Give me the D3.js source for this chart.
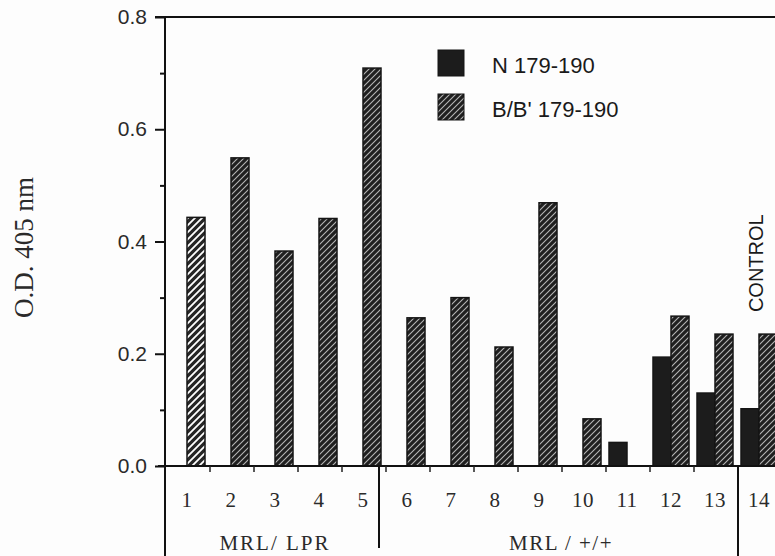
<!DOCTYPE html>
<html>
<head>
<meta charset="utf-8">
<script src="https://cdn.jsdelivr.net/npm/d3@7"></script>
<style>
  body { margin: 0; background: #fdfdfd; }
  svg { display: block; }
</style>
</head>
<body>
<div class="graph-center"></div>
<script>
// data
let categories = ['1', '2', '3', '4', '5', '6', '7', '8', '9', '10', '11', '12', '13', '14']
let nValues = [null, null, null, null, null, null, null, null, null, null, 0.042, 0.194, 0.130, 0.102]
let bValues = [0.443, 0.549, 0.383, 0.441, 0.709, 0.264, 0.300, 0.212, 0.469, 0.084, null, 0.267, 0.235, 0.235]
let seriesNames = ['N 179-190', "B/B' 179-190"]
let groupNames = ['MRL/ LPR', 'MRL / +/+']
let groupRanges = [['1', '5'], ['6', '13']]
let yTicks = [0, 0.2, 0.4, 0.6, 0.8]
let yMinorTicks = [0.1, 0.3, 0.5, 0.7]

let svgWidth = 775
let svgHeight = 556

let svg = d3.select('.graph-center')
    .append('svg')
    .attr('width', svgWidth)
    .attr('height', svgHeight)

// hatch patterns
let defs = svg.append('defs')
let hatch = defs.append('pattern')
    .attr('id', 'hatch')
    .attr('patternUnits', 'userSpaceOnUse')
    .attr('width', 6).attr('height', 6)
hatch.append('rect').attr('width', 6).attr('height', 6).attr('fill', '#1f1f1f')
hatch.append('path')
    .attr('d', 'M-1,1 l2,-2 M0,6 l6,-6 M5,7 l2,-2')
    .attr('stroke', '#b4b4b4').attr('stroke-width', 1.1)

let hatchLight = defs.append('pattern')
    .attr('id', 'hatch-light')
    .attr('patternUnits', 'userSpaceOnUse')
    .attr('width', 7).attr('height', 7)
hatchLight.append('rect').attr('width', 7).attr('height', 7).attr('fill', '#262626')
hatchLight.append('path')
    .attr('d', 'M-1,1 l2,-2 M0,7 l7,-7 M6,8 l2,-2')
    .attr('stroke', '#ffffff').attr('stroke-width', 1.8)

// scales
let x = d3.scaleBand()
    .domain(categories)
    .range([165, 165 + 44 * categories.length])
let x1 = d3.scaleBand()
    .domain(['N', 'B'])
    .range([4, 40])
let y = d3.scaleLinear()
    .domain([0, 0.8])
    .range([466, 17])

let bars = []
categories.forEach((c, i) => {
    if (nValues[i] != null) bars.push({ cat: c, key: 'N', value: nValues[i] })
    if (bValues[i] != null) bars.push({ cat: c, key: 'B', value: bValues[i] })
})

svg.append('g')
    .selectAll('rect')
    .data(bars)
    .join('rect')
    .attr('x', d => x(d.cat) + x1(d.key))
    .attr('y', d => y(d.value))
    .attr('width', x1.bandwidth())
    .attr('height', d => y(0) - y(d.value))
    .attr('fill', d => d.key === 'N' ? '#1c1c1c' : (d.cat === '1' ? 'url(#hatch-light)' : 'url(#hatch)'))
    .attr('stroke', '#151515')
    .attr('stroke-width', 1.5)

// y axis
let yAxis = d3.axisLeft(y)
    .tickValues(yTicks)
    .tickFormat(d3.format('.1f'))
    .tickSize(10)
    .tickPadding(8)
let yMinor = d3.axisLeft(y)
    .tickValues(yMinorTicks)
    .tickFormat('')
    .tickSize(5)

svg.append('g')
    .attr('id', 'y-axis')
    .attr('transform', 'translate(165,0)')
    .call(yAxis)
    .call(g => g.select('.domain').remove())
    .call(g => g.selectAll('line').attr('stroke', '#111').attr('stroke-width', 2))
    .call(g => g.selectAll('text')
        .attr('font-family', 'Liberation Sans, Arial, sans-serif')
        .attr('font-size', 21)
        .attr('fill', '#2a2a2a'))

svg.append('g')
    .attr('transform', 'translate(165,0)')
    .call(yMinor)
    .call(g => g.select('.domain').remove())
    .call(g => g.selectAll('line').attr('stroke', '#111').attr('stroke-width', 2))

// frame lines
let xEnd = svgWidth
svg.append('line')
    .attr('x1', 165).attr('x2', 165)
    .attr('y1', y(0.8)).attr('y2', svgHeight)
    .attr('stroke', '#111').attr('stroke-width', 2)
svg.append('line')
    .attr('x1', 155).attr('x2', xEnd)
    .attr('y1', y(0.8)).attr('y2', y(0.8))
    .attr('stroke', '#111').attr('stroke-width', 2)
svg.append('line')
    .attr('x1', 158).attr('x2', xEnd)
    .attr('y1', y(0)).attr('y2', y(0))
    .attr('stroke', '#111').attr('stroke-width', 2)

// x axis: category numbers
let xAxis = d3.axisBottom(x)
    .tickSize(0)
    .tickPadding(26)
svg.append('g')
    .attr('id', 'x-axis')
    .attr('transform', `translate(0,${y(0)})`)
    .call(xAxis)
    .call(g => g.select('.domain').remove())
    .call(g => g.selectAll('text')
        .attr('font-family', 'Liberation Serif, Times New Roman, serif')
        .attr('font-size', 21)
        .attr('letter-spacing', 0.5)
        .attr('fill', '#2a2a2a'))

// small ticks at category boundaries
svg.append('g')
    .selectAll('line')
    .data(categories.slice(1))
    .join('line')
    .attr('x1', d => x(d) + 1).attr('x2', d => x(d) + 1)
    .attr('y1', y(0)).attr('y2', y(0) + 6)
    .attr('stroke', '#222').attr('stroke-width', 1.5)

// group separators and labels
groupRanges.forEach((r, i) => {
    let sepX = x(r[1]) + x1('B') + x1.bandwidth() + (i === 0 ? -2 : 5)
    svg.append('line')
        .attr('x1', sepX).attr('x2', sepX)
        .attr('y1', y(0)).attr('y2', i === 0 ? 548 : svgHeight)
        .attr('stroke', '#111').attr('stroke-width', 2)
    let cx = (x(r[0]) + x(r[1]) + x.bandwidth()) / 2
    svg.append('text')
        .attr('x', cx)
        .attr('y', 550)
        .attr('text-anchor', 'middle')
        .attr('font-family', 'Liberation Serif, Times New Roman, serif')
        .attr('font-size', 21)
        .attr('letter-spacing', i === 0 ? 2 : 1.5)
        .attr('fill', '#2a2a2a')
        .text(groupNames[i])
})

// control label
let ctrlIdx = categories.length - 1
svg.append('text')
    .attr('transform', `translate(${x(categories[ctrlIdx]) + x.bandwidth() / 2 + 4},${y(bValues[ctrlIdx]) - 22}) rotate(-90)`)
    .attr('font-family', 'Liberation Sans, Arial, sans-serif')
    .attr('font-size', 20)
    .attr('fill', '#1a1a1a')
    .text('CONTROL')

// y axis title
svg.append('text')
    .attr('transform', 'translate(33,318) rotate(-90)')
    .attr('text-anchor', 'start')
    .attr('font-family', 'Liberation Serif, Times New Roman, serif')
    .attr('font-size', 27)
    .attr('fill', '#2a2a2a')
    .text('O.D. 405 nm')

// legend
let legend = svg.append('g')
    .selectAll('g')
    .data(seriesNames)
    .join('g')
    .attr('transform', (d, i) => `translate(438,${50 + i * 44})`)
legend.append('rect')
    .attr('width', 26).attr('height', 26)
    .attr('fill', (d, i) => i === 0 ? '#1c1c1c' : 'url(#hatch)')
    .attr('stroke', '#151515')
legend.append('text')
    .attr('x', 54)
    .attr('y', 23)
    .attr('font-family', 'Liberation Sans, Arial, sans-serif')
    .attr('font-size', 22)
    .attr('fill', '#1a1a1a')
    .text(d => d)
</script>
</body>
</html>
